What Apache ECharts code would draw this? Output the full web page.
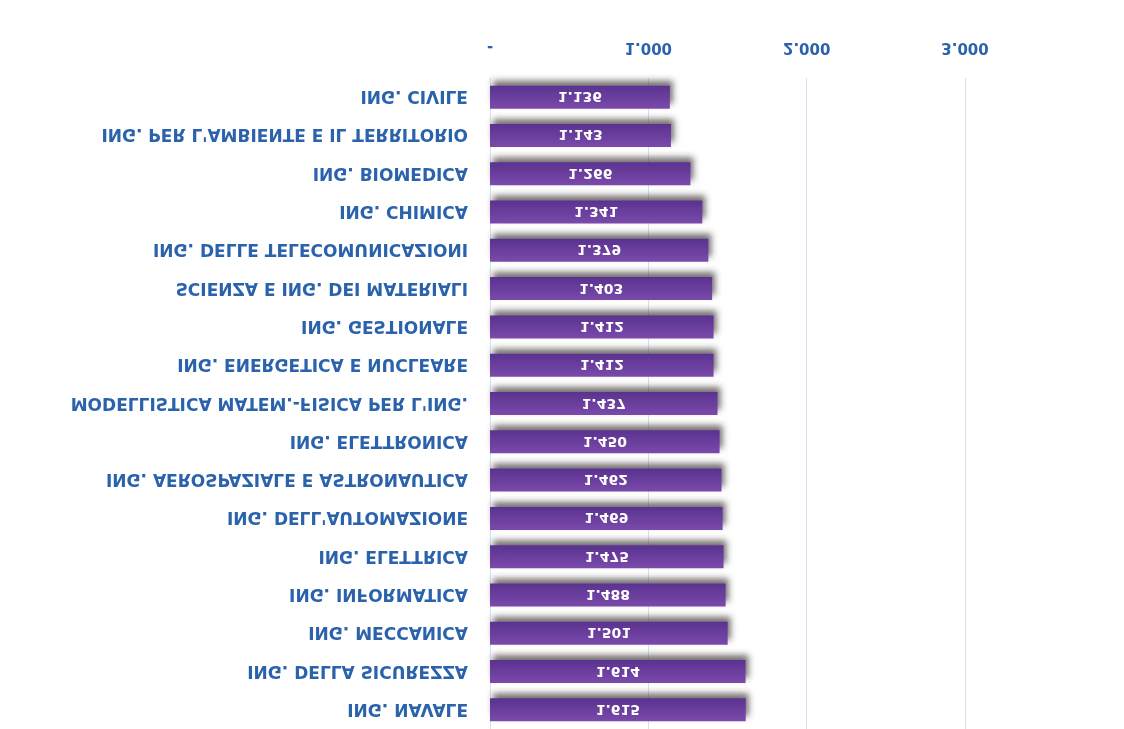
<!DOCTYPE html>
<html>
<head>
<meta charset="utf-8">
<script src="https://cdn.jsdelivr.net/npm/echarts@6/dist/echarts.min.js"></script>
<style>
html,body{margin:0;padding:0;background:#ffffff;}
#chart{width:1124px;height:729px;transform:scaleY(-1);transform-origin:50% 50%;}
</style>
</head>
<body>
<div id="chart"></div>
<script>
const categories = [
  "ING. CIVILE",
  "ING. PER L'AMBIENTE E IL TERRITORIO",
  "ING. BIOMEDICA",
  "ING. CHIMICA",
  "ING. DELLE TELECOMUNICAZIONI",
  "SCIENZA E ING. DEI MATERIALI",
  "ING. GESTIONALE",
  "ING. ENERGETICA E NUCLEARE",
  "MODELLISTICA MATEM.-FISICA PER L'ING.",
  "ING. ELETTRONICA",
  "ING. AEROSPAZIALE E ASTRONAUTICA",
  "ING. DELL'AUTOMAZIONE",
  "ING. ELETTRICA",
  "ING. INFORMATICA",
  "ING. MECCANICA",
  "ING. DELLA SICUREZZA",
  "ING. NAVALE"
];
const values = [1136, 1143, 1266, 1341, 1379, 1403, 1412, 1412, 1437, 1450, 1462, 1469, 1475, 1488, 1501, 1614, 1615];
const tickValues = [0, 1000, 2000, 3000];

function fmt(v) {
  if (v === 0) return '-';
  const s = String(Math.round(v));
  return s.replace(/\B(?=(\d{3})+(?!\d))/g, '.');
}

const chart = echarts.init(document.getElementById('chart'), null, {renderer: 'svg'});
chart.setOption({
  backgroundColor: '#ffffff',
  animation: false,
  grid: {left: 490, right: 159, top: 0, bottom: 78, containLabel: false},
  xAxis: {
    type: 'value',
    min: tickValues[0],
    max: tickValues[tickValues.length - 1],
    interval: 1000,
    axisLine: {show: false},
    axisTick: {show: false},
    splitLine: {show: true, lineStyle: {color: '#d3e1f3', width: 1}},
    axisLabel: {
      formatter: fmt,
      color: '#2a62ab',
      fontFamily: 'DejaVu Sans',
      fontWeight: 'bold',
      fontSize: 15,
      margin: 23
    }
  },
  yAxis: {
    type: 'category',
    data: categories,
    axisLine: {show: true, lineStyle: {color: '#d3e1f3'}},
    axisTick: {show: false},
    axisLabel: {
      color: '#2a62ab',
      fontFamily: 'DejaVu Sans',
      fontWeight: 'bold',
      fontSize: 17,
      margin: 22
    }
  },
  series: [{
    type: 'bar',
    data: values,
    barWidth: 23,
    itemStyle: {
      color: new echarts.graphic.LinearGradient(0, 0, 0, 1, [
        {offset: 0, color: '#7a4aab'},
        {offset: 1, color: '#5a3290'}
      ]),
      shadowColor: 'rgba(60,50,50,0.7)',
      shadowBlur: 6,
      shadowOffsetX: 3,
      shadowOffsetY: 5
    },
    label: {
      show: true,
      position: 'inside',
      formatter: p => fmt(p.value),
      color: '#ffffff',
      fontFamily: 'DejaVu Sans',
      fontWeight: 'bold',
      fontSize: 14
    }
  }]
});
</script>
</body>
</html>
